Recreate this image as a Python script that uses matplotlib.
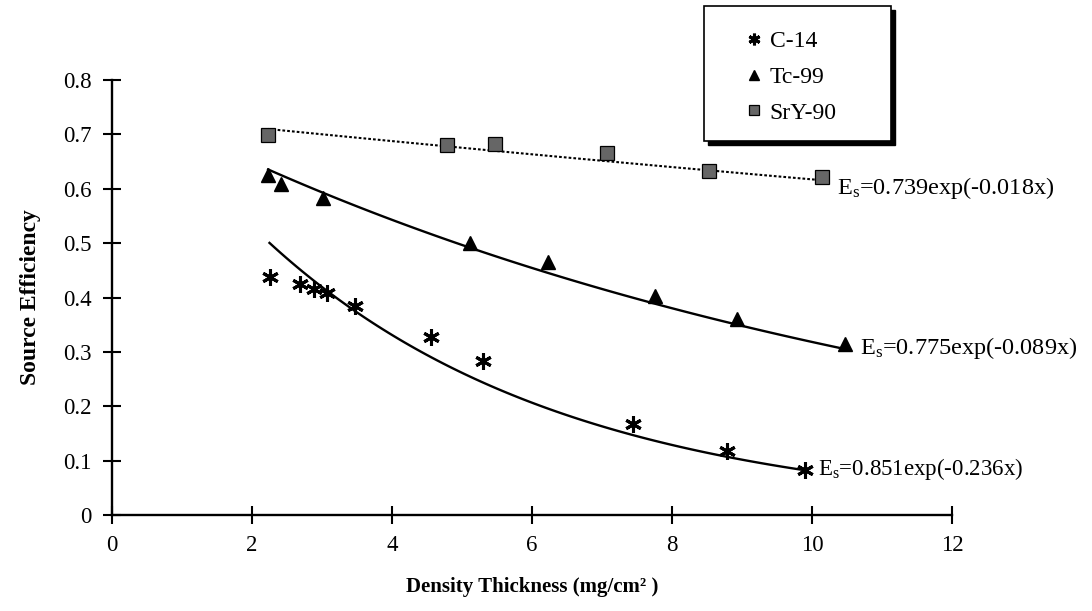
import matplotlib
matplotlib.use("Agg")
import matplotlib.pyplot as plt
import numpy as np
from matplotlib.patches import Rectangle

plt.rcParams['font.family'] = ['Liberation Serif', 'DejaVu Serif']
plt.rcParams['mathtext.fontset'] = 'custom'
plt.rcParams['mathtext.rm'] = 'Liberation Serif'
plt.rcParams['mathtext.it'] = 'Liberation Serif:italic'

# DADOS
c14_x = [2.25, 2.68, 2.88, 3.07, 3.47, 4.55, 5.30, 7.44, 8.78, 9.90]
c14_y = [0.437, 0.425, 0.415, 0.409, 0.385, 0.328, 0.283, 0.168, 0.117, 0.082]

tc_x = [2.23, 2.42, 3.01, 5.11, 6.23, 7.76, 8.93, 10.47]
tc_y = [0.625, 0.609, 0.583, 0.500, 0.466, 0.403, 0.360, 0.314]

sr_x = [2.23, 4.78, 5.47, 7.07, 8.53, 10.14]
sr_y = [0.698, 0.681, 0.682, 0.666, 0.632, 0.621]

# AJUSTES EXPONENCIAIS Es = a*exp(b*x)
c14_fit = (0.851, -0.236)
tc_fit = (0.775, -0.089)
sr_fit = (0.739, -0.018)

x_ticks = [0, 2, 4, 6, 8, 10, 12]
y_ticks = [0, 0.1, 0.2, 0.3, 0.4, 0.5, 0.6, 0.7, 0.8]
y_ticklabels = ['0', '0.1', '0.2', '0.3', '0.4', '0.5', '0.6', '0.7', '0.8']


def curva(xs, fit):
    xx = np.linspace(min(xs), max(xs), 100)
    return xx, fit[0] * np.exp(fit[1] * xx)


def rotulo(fit):
    return r'E$_{\mathrm{s}}$=%.3fexp(%.3fx)' % (fit[0], fit[1])


fig = plt.figure(figsize=(10.92, 6.11), dpi=100)
ax = fig.add_axes([112 / 1092, 1 - 515 / 611, 840 / 1092, 435 / 611])

# LINHAS DE AJUSTE
xx, yy = curva(c14_x, c14_fit)
ax.plot(xx, yy, color='black', lw=1.7)
xx, yy = curva(tc_x, tc_fit)
ax.plot(xx, yy, color='black', lw=1.7)
xx, yy = curva(sr_x, sr_fit)
ax.plot(xx, yy, color='black', lw=1.5, dashes=(1.3, 1.0))

# PONTOS
h1, = ax.plot(c14_x, c14_y, ls='none', marker=(6, 2, 0), ms=12, mew=2.2,
              color='black', label='C-14')
h2, = ax.plot(tc_x, tc_y, ls='none', marker='^', ms=9.5, color='black',
              label='Tc-99')
h3, = ax.plot(sr_x, sr_y, ls='none', marker='s', ms=9.5, mfc='#666666',
              mec='black', mew=0.9, label='SrY-90')

# EQUACOES
ax.annotate(rotulo(sr_fit), (sr_x[-1], sr_y[-1]), xytext=(11, -8),
            textcoords='offset points', fontsize=17.5, va='center')
ax.annotate(rotulo(tc_fit), (tc_x[-1], tc_y[-1]), xytext=(11, -3),
            textcoords='offset points', fontsize=17.5, va='center')
ax.annotate(rotulo(c14_fit), (c14_x[-1], c14_y[-1]), xytext=(9, 1),
            textcoords='offset points', fontsize=16.5, va='center')

ax.set_xlim(0, 12)
ax.set_ylim(0, 0.8)
ax.set_xticks(x_ticks)
ax.set_yticks(y_ticks)
ax.set_yticklabels(y_ticklabels)
ax.spines['top'].set_visible(False)
ax.spines['right'].set_visible(False)
ax.spines['left'].set_linewidth(1.7)
ax.spines['bottom'].set_linewidth(1.7)
ax.tick_params(axis='both', direction='inout', length=13, width=1.5,
               labelsize=16.5)
ax.tick_params(axis='y', pad=8)
ax.tick_params(axis='x', pad=8)

ax.set_xlabel('Density Thickness (mg/cm² )', fontsize=15, fontweight='bold',
              labelpad=15)
ax.set_ylabel('Source Efficiency', fontsize=17, fontweight='bold',
              labelpad=16)

# CAIXA DA LEGENDA COM SOMBRA
fig.patches.append(Rectangle((708 / 1092, 1 - 145 / 611), 187 / 1092,
                             135 / 611, transform=fig.transFigure,
                             facecolor='black', edgecolor='black'))
fig.patches.append(Rectangle((704 / 1092, 1 - 141 / 611), 187 / 1092,
                             135 / 611, transform=fig.transFigure,
                             facecolor='white', edgecolor='black', lw=1.2))

fig.legend(handles=[h1, h2, h3], loc='upper left',
           bbox_to_anchor=(733 / 1092, 1 - 19 / 611), frameon=False,
           fontsize=17, markerscale=0.7, handlelength=0.8,
           handletextpad=0.25, labelspacing=0.6, borderpad=0)

fig.savefig('out.png', dpi=100)
